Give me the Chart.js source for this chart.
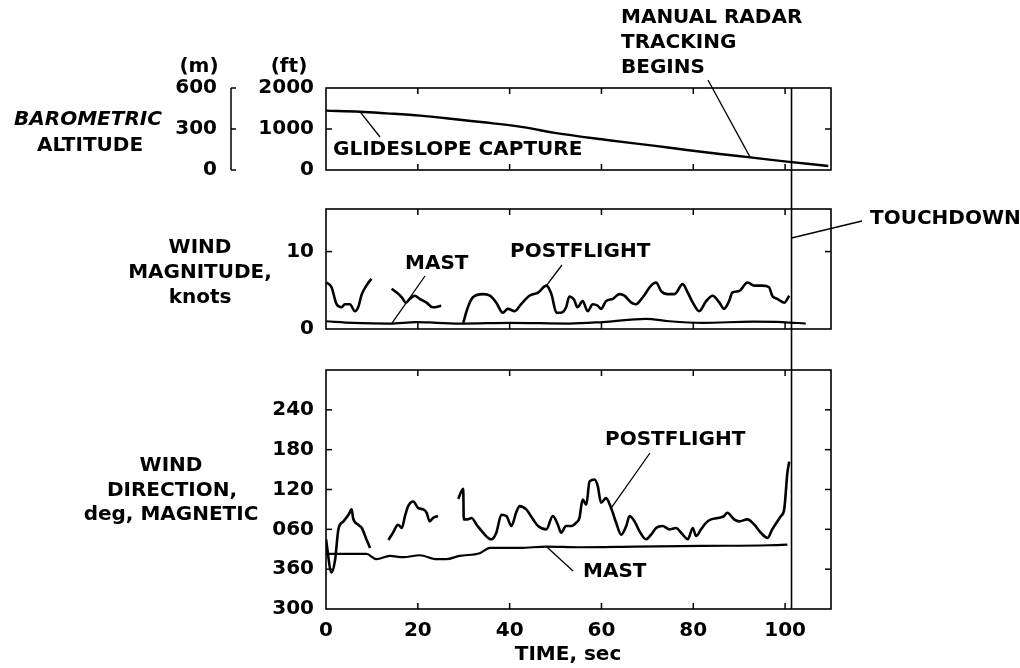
<!DOCTYPE html>
<html>
<head>
<meta charset="utf-8">
<script src="https://cdn.jsdelivr.net/npm/chart.js@4.4.1/dist/chart.umd.min.js"></script>
<style>
  body { margin: 0; background: #fff; }
  #wrap { position: relative; width: 1020px; height: 668px; }
  #wrap canvas { position: absolute; left: 0; top: 0; }
</style>
</head>
<body>
<div id="wrap">
  <canvas id="altChart" width="1020" height="668"></canvas>
  <canvas id="magChart" width="1020" height="668"></canvas>
  <canvas id="dirChart" width="1020" height="668"></canvas>
</div>
<script>
// ---- data ----
const timeTicks = [0, 20, 40, 60, 80, 100];
const touchdownTime = 101.4;

// barometric altitude (ft)
const altTime = [0, 7.4, 13.2, 20.5, 27.7, 36.4, 43.7, 49.5, 61.2, 71.3, 78.6, 85.8, 92.4, 100.4, 109.4];
const altFeet = [1447, 1422, 1382, 1325, 1244, 1138, 1032, 910, 732, 594, 488, 390, 309, 203, 98];
const ftTicks = [0, 1000, 2000];
const mTicks = [0, 300, 600];

// wind magnitude (knots), null = gap in the trace
const magPostTime = [0.1, 1.2, 2.3, 3.4, 4.1, 5.2, 6.3, 7.0, 7.8, 8.8, 9.9, 12,
  14.3, 15.4, 16.5, 17.4, 18.3, 19.3, 20.4, 21.9, 23.3, 25.1, 27,
  29.9, 30.9, 32.0, 34.2, 35.7, 37.1, 38.5, 39.6, 41.1, 42.5, 44.3, 46.2, 48.0, 49.1, 50.2, 51.2, 52.3,
  53.0, 54.0, 54.8, 55.9, 57.0, 58.1, 59.2, 59.9, 61.0, 62.5, 63.9, 65.0, 66.5, 67.5, 69.0, 70.8, 71.9,
  73.0, 74.4, 75.9, 77.7, 78.8, 79.9, 81.3, 82.8, 84.2, 85.7, 86.7, 87.8, 88.5, 90.0, 91.8, 93.3, 95.1,
  96.5, 97.2, 98.3, 99.8, 100.9];
const magPost = [6.0, 5.4, 3.2, 2.8, 3.2, 3.2, 2.3, 2.8, 4.5, 5.6, 6.5, null,
  5.2, 4.7, 4.1, 3.4, 3.9, 4.3, 3.9, 3.4, 2.8, 3.0, null,
  0.8, 2.8, 4.1, 4.5, 4.3, 3.4, 2.1, 2.6, 2.3, 3.2, 4.3, 4.7, 5.6, 4.5, 2.1, 2.1, 2.8,
  4.2, 3.8, 2.8, 3.6, 2.3, 3.2, 3.0, 2.6, 3.6, 3.9, 4.5, 4.3, 3.4, 3.2, 4.1, 5.6, 6.0,
  4.9, 4.5, 4.5, 5.8, 4.7, 3.4, 2.3, 3.6, 4.3, 3.4, 2.6, 3.6, 4.7, 4.9, 6.0, 5.6, 5.6,
  5.4, 4.3, 3.9, 3.4, 4.3];
const magMastTime = [0, 5.9, 13.9, 19.7, 24.1, 29.9, 40, 53, 60.3, 69.7, 74.8, 82, 92.9, 99.4, 104.5];
const magMast = [1.0, 0.8, 0.7, 0.9, 0.8, 0.7, 0.8, 0.7, 0.9, 1.3, 1.0, 0.8, 0.95, 0.9, 0.7];
const magTicks = [0, 10];

// wind direction, deg magnetic (values above 360 wrap: 420 = 060)
const dirPostTime = [0, 1.2, 2.0, 2.7, 3.8, 4.9, 5.6, 5.9, 7.0, 7.8, 8.8, 9.6, 11.5,
  13.6, 14.6, 15.7, 16.5, 17.2, 17.9, 19.0, 20.1, 21.2, 21.9, 22.6, 23.3, 24.4, 26.5,
  28.8, 29.9, 30.0, 30.9, 31.7, 32.8, 34.2, 36.0, 37.1, 38.2, 39.3, 40.4, 41.4, 42.2, 43.6, 45.1, 46.2,
  48.0, 49.4, 50.5, 51.2, 52.3, 53.5, 54.5, 55.2, 55.9, 56.7, 57.4, 58.5, 59.2, 59.9, 61.0, 62.1, 63.2,
  64.3, 65.4, 66.1, 67.2, 68.3, 69.7, 70.8, 71.9, 73.3, 74.8, 76.2, 77.7, 78.8, 79.9, 80.6, 81.7, 82.8,
  83.9, 85.3, 86.7, 87.4, 88.9, 90.0, 91.8, 93.3, 94.7, 96.2, 97.2, 99.1, 99.8, 100.5, 100.9];
const dirPost = [405, 355, 375, 420, 432, 442, 450, 437, 427, 422, 405, 392, null,
  404, 415, 427, 422, 440, 455, 462, 452, 450, 445, 432, 437, 440, null,
  466, 481, 435, 435, 437, 427, 415, 405, 415, 442, 440, 425, 445, 455, 450, 435, 425,
  420, 440, 427, 415, 425, 425, 430, 437, 465, 457, 492, 495, 485, 460, 467, 452, 430,
  412, 425, 440, 432, 417, 405, 412, 422, 425, 420, 422, 412, 405, 422, 410, 420, 430,
  435, 437, 440, 445, 435, 432, 435, 427, 415, 407, 420, 440, 450, 505, 522];
const dirMastTime = [0, 8.8, 11.0, 13.9, 16.8, 20.4, 24.1, 26.2, 29.1, 33.5, 35.7, 42.2, 48, 55.2, 67.5, 82, 96.5, 100.5];
const dirMast = [383, 383, 375, 380, 378, 381, 375, 375, 380, 384, 392, 392, 394, 393, 394, 395, 396, 397];
const dirTicks = [300, 360, 420, 480, 540, 600];
const dirTickLabels = ['300', '360', '060', '120', '180', '240'];

// ---- shared look ----
const FAMILY = 'DejaVu Sans';
const FONT = 'bold 20px "DejaVu Sans"';
const FONT_IT = 'italic bold 20px "DejaVu Sans"';
const tickFont = { family: FAMILY, size: 20, weight: 'bold' };
const plain = v => String(v);

function points(xs, ys) {
  return xs.map((x, i) => ({ x: x, y: ys[i] }));
}

function trace(xs, ys, yAxisID, width) {
  return {
    data: points(xs, ys),
    yAxisID: yAxisID || 'y',
    borderColor: '#000',
    borderWidth: width || 2.6,
    pointRadius: 0,
    cubicInterpolationMode: 'monotone',
    spanGaps: false,
    fill: false
  };
}

function fixedTicks(values) {
  return function (scale) {
    scale.ticks = values.map(v => ({ value: v }));
  };
}

function line(ctx, x1, y1, x2, y2, w) {
  ctx.lineWidth = w || 1.3;
  ctx.beginPath();
  ctx.moveTo(x1, y1);
  ctx.lineTo(x2, y2);
  ctx.stroke();
}

function text(ctx, str, x, y, align, font) {
  ctx.font = font || FONT;
  ctx.textAlign = align || 'left';
  ctx.textBaseline = 'middle';
  ctx.fillStyle = '#000';
  ctx.fillText(str, x, y);
}

// box round the plot with inward tick marks on all four sides
const framePlugin = {
  id: 'frame',
  afterDraw(chart) {
    const { ctx, chartArea: a, scales } = chart;
    ctx.save();
    ctx.strokeStyle = '#000';
    ctx.lineWidth = 1.6;
    ctx.strokeRect(a.left, a.top, a.width, a.height);
    scales.x.ticks.forEach(t => {
      if (t.value <= scales.x.min || t.value >= scales.x.max) return;
      const px = scales.x.getPixelForValue(t.value);
      line(ctx, px, a.top, px, a.top + 6, 1.5);
      line(ctx, px, a.bottom, px, a.bottom - 6, 1.5);
    });
    scales.y.ticks.forEach(t => {
      if (t.value <= scales.y.min || t.value >= scales.y.max) return;
      const py = scales.y.getPixelForValue(t.value);
      line(ctx, a.left, py, a.left + 6, py, 1.5);
      line(ctx, a.right, py, a.right - 6, py, 1.5);
    });
    ctx.restore();
  }
};

function xScale(showLabels, height) {
  return {
    type: 'linear',
    min: 0,
    max: 110,
    afterBuildTicks: fixedTicks(timeTicks),
    grid: { display: false, drawTicks: false },
    border: { display: false },
    ticks: { display: showLabels, font: tickFont, color: '#000', padding: 10, maxRotation: 0, callback: plain },
    afterFit(scale) { scale.height = height; }
  };
}

function baseOptions(padding, scales) {
  return {
    responsive: false,
    animation: false,
    devicePixelRatio: 1,
    layout: { padding: padding },
    plugins: { legend: { display: false }, tooltip: { enabled: false } },
    scales: scales
  };
}

// ---- barometric altitude ----
const altChart = new Chart(document.getElementById('altChart'), {
  type: 'line',
  data: { datasets: [trace(altTime, altFeet, 'y', 2.4)] },
  options: baseOptions({ left: 150, right: 189, top: 88, bottom: 498 }, {
    x: xScale(false, 0),
    y: {
      type: 'linear', position: 'left', weight: 0,
      min: 0, max: 2000,
      afterBuildTicks: fixedTicks(ftTicks),
      grid: { display: false, drawTicks: false },
      border: { display: false },
      ticks: { font: tickFont, color: '#000', padding: 12, callback: plain },
      afterFit(scale) { scale.width = 90; }
    },
    ym: {
      type: 'linear', position: 'left', weight: 1,
      min: 0, max: 600,
      afterBuildTicks: fixedTicks(mTicks),
      grid: { display: false, drawTicks: false },
      border: { display: false },
      ticks: { font: tickFont, color: '#000', padding: 19, callback: plain },
      afterFit(scale) { scale.width = 86; }
    }
  }),
  plugins: [framePlugin, {
    id: 'altNotes',
    afterDraw(chart) {
      const { ctx, scales } = chart;
      const x = scales.x, y = scales.y, ym = scales.ym;
      ctx.save();
      ctx.strokeStyle = '#000';
      // bracket for the metre scale
      const bx = ym.right - 5;
      line(ctx, bx, ym.getPixelForValue(600), bx, ym.getPixelForValue(0), 1.5);
      mTicks.forEach(v => {
        const py = ym.getPixelForValue(v);
        line(ctx, bx, py, bx + 5, py, 1.5);
      });
      text(ctx, '(m)', 199, 67, 'center');
      text(ctx, '(ft)', 289, 67, 'center');
      text(ctx, 'BAROMETRIC', 88, 120, 'center', FONT_IT);
      text(ctx, 'ALTITUDE', 90, 146, 'center');
      // glideslope capture
      line(ctx, x.getPixelForValue(7.4), y.getPixelForValue(1422), 380, 137);
      text(ctx, 'GLIDESLOPE CAPTURE', 333, 150, 'left');
      // manual radar tracking
      text(ctx, 'MANUAL RADAR', 621, 18, 'left');
      text(ctx, 'TRACKING', 621, 43, 'left');
      text(ctx, 'BEGINS', 621, 68, 'left');
      line(ctx, 708, 80, x.getPixelForValue(92.4), y.getPixelForValue(309));
      ctx.restore();
    }
  }]
});

// ---- wind magnitude ----
const magChart = new Chart(document.getElementById('magChart'), {
  type: 'line',
  data: { datasets: [trace(magPostTime, magPost), trace(magMastTime, magMast, 'y', 2.2)] },
  options: baseOptions({ left: 182, right: 189, top: 209, bottom: 339 }, {
    x: xScale(false, 0),
    y: {
      type: 'linear', position: 'left',
      min: 0, max: 15.5,
      afterBuildTicks: fixedTicks(magTicks),
      grid: { display: false, drawTicks: false },
      border: { display: false },
      ticks: { font: tickFont, color: '#000', padding: 12, callback: plain },
      afterFit(scale) { scale.width = 144; }
    }
  }),
  plugins: [framePlugin, {
    id: 'magNotes',
    afterDraw(chart) {
      const { ctx, scales } = chart;
      const x = scales.x, y = scales.y;
      ctx.save();
      ctx.strokeStyle = '#000';
      text(ctx, 'WIND', 200, 248, 'center');
      text(ctx, 'MAGNITUDE,', 200, 273, 'center');
      text(ctx, 'knots', 200, 298, 'center');
      text(ctx, 'MAST', 405, 264, 'left');
      line(ctx, 425, 276, x.getPixelForValue(14.3), y.getPixelForValue(0.7));
      text(ctx, 'POSTFLIGHT', 510, 252, 'left');
      line(ctx, 562, 265, x.getPixelForValue(48.0), y.getPixelForValue(5.6));
      // touchdown callout
      const tx = x.getPixelForValue(touchdownTime);
      line(ctx, tx, 238, 862, 221);
      text(ctx, 'TOUCHDOWN', 870, 219, 'left');
      ctx.restore();
    }
  }]
});

// ---- wind direction ----
const dirChart = new Chart(document.getElementById('dirChart'), {
  type: 'line',
  data: { datasets: [trace(dirPostTime, dirPost), trace(dirMastTime, dirMast, 'y', 2.2)] },
  options: baseOptions({ left: 182, right: 189, top: 370, bottom: 19 }, {
    x: xScale(true, 40),
    y: {
      type: 'linear', position: 'left',
      min: 300, max: 660,
      afterBuildTicks: fixedTicks(dirTicks),
      grid: { display: false, drawTicks: false },
      border: { display: false },
      ticks: {
        font: tickFont, color: '#000', padding: 12,
        callback: v => dirTickLabels[dirTicks.indexOf(v)]
      },
      afterFit(scale) { scale.width = 144; }
    }
  }),
  plugins: [framePlugin, {
    id: 'dirNotes',
    afterDraw(chart) {
      const { ctx, scales, chartArea } = chart;
      const x = scales.x, y = scales.y;
      ctx.save();
      ctx.strokeStyle = '#000';
      text(ctx, 'WIND', 171, 466, 'center');
      text(ctx, 'DIRECTION,', 172, 491, 'center');
      text(ctx, 'deg, MAGNETIC', 171, 515, 'center');
      text(ctx, 'POSTFLIGHT', 605, 440, 'left');
      line(ctx, 650, 453, x.getPixelForValue(62.1), y.getPixelForValue(452));
      text(ctx, 'MAST', 583, 572, 'left');
      line(ctx, 573, 571, x.getPixelForValue(48), y.getPixelForValue(394));
      text(ctx, 'TIME, sec', 568, 655, 'center');
      // touchdown marker through all three panels
      const tx = x.getPixelForValue(touchdownTime);
      line(ctx, tx, altChart.chartArea.top, tx, chartArea.bottom, 1.6);
      ctx.restore();
    }
  }]
});
</script>
</body>
</html>
